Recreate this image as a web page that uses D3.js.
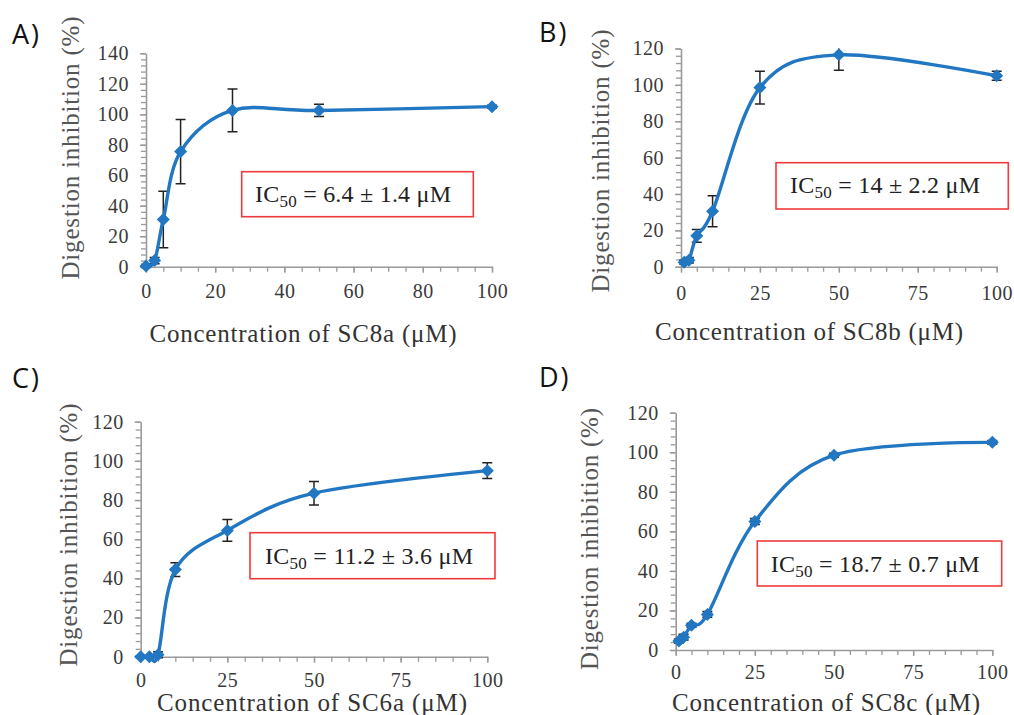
<!DOCTYPE html>
<html><head><meta charset="utf-8">
<script src="https://cdn.jsdelivr.net/npm/d3@7"></script>
<style>body{margin:0;background:#fff}svg{display:block}</style>
</head><body><svg id="c" width="1014" height="715"></svg>
<script>
// ---------- data ----------
const concA = [0, 2.5, 5, 10, 25, 50, 100];
const inhibA = [0.5, 4, 31, 75.5, 102.5, 102.5, 105];
const errA = [1, 2, 18.5, 21, 14, 4, 1];

const concB = [1, 2.5, 5, 10, 25, 50, 100];
const inhibB = [2.5, 3.5, 17, 30.5, 98.5, 116.5, 105];
const errB = [1, 1.5, 3.5, 8.5, 9, 8.5, 2.5];

const concC = [0, 2.5, 5, 10, 25, 50, 100];
const inhibC = [0, 0, 1, 44.5, 64.5, 83.5, 95];
const errC = [0.5, 0.5, 1.5, 3.5, 5.5, 6, 4];

const concD = [1, 2.5, 5, 10, 25, 50, 100];
const inhibD = [4.5, 6.5, 12.5, 18, 65, 98.5, 105];
const errD = [1, 1.5, 1, 1.5, 1.5, 1, 1];

const xTicksA = [0, 20, 40, 60, 80, 100];
const yTicksA = [0, 20, 40, 60, 80, 100, 120, 140];
const xTicksBCD = [0, 25, 50, 75, 100];
const yTicksBCD = [0, 20, 40, 60, 80, 100, 120];

const panelLetters = ["A)", "B)", "C)", "D)"];
const compounds = ["SC8a", "SC8b", "SC6a", "SC8c"];
const ic50Values = ["6.4 ± 1.4", "14 ± 2.2", "11.2 ± 3.6", "18.7 ± 0.7"];
const yTitle = "Digestion inhibition (%)";

// ---------- layout ----------
const layouts = [
  {x:concA, y:inhibA, e:errA, xt:xTicksA, yt:yTicksA, xMinor:5, yMinor:4,
   L:146, R:492, T:53.3, B:266.7, xPad:11,
   letter:[12,44], yT:[79,148, 263], xT:[303,342,307],
   box:[241.7,171.7,473.3,216.7], txt:[255,202,196]},
  {x:concB, y:inhibB, e:errB, xt:xTicksBCD, yt:yTicksBCD, xMinor:5, yMinor:4,
   L:681, R:996.7, T:48.5, B:266.7, xPad:13,
   letter:[539,42], yT:[609,161,263], xT:[809,340,308],
   box:[776,162.7,1008.3,209], txt:[790,193,190]},
  {x:concC, y:inhibC, e:errC, xt:xTicksBCD, yt:yTicksBCD, xMinor:5, yMinor:4,
   L:140.7, R:487.3, T:421.7, B:656.7, xPad:10,
   letter:[12,388], yT:[77,535,263], xT:[312,711,310],
   box:[250,532.7,495,578.7], txt:[265,563.5,208]},
  {x:concD, y:inhibD, e:errD, xt:xTicksBCD, yt:yTicksBCD, xMinor:5, yMinor:4,
   L:675.7, R:992.3, T:412.7, B:650, xPad:9,
   letter:[539,387], yT:[598,539,262], xT:[826,711,308],
   box:[757.3,541,1001.7,586], txt:[770.7,571.7,209]}
];

const svg = d3.select("#c");
svg.append("rect").attr("width",1014).attr("height",715).attr("fill","#fff");

const blue = "#2277c2";
const axisCol = "#9a9a9a";
const serif = "'Liberation Serif', 'Times New Roman', serif";

layouts.forEach((p, i) => {
  const g = svg.append("g");
  const xs = d3.scaleLinear().domain([0, d3.max(p.xt)]).range([p.L, p.R]);
  const ys = d3.scaleLinear().domain([0, d3.max(p.yt)]).range([p.B, p.T]);

  const cid = "clip" + i;
  svg.append("clipPath").attr("id", cid).append("rect")
    .attr("x", p.L - 10).attr("y", p.T).attr("width", p.R - p.L + 20).attr("height", p.B - p.T + 10);

  // minor ticks
  const xMinorVals = d3.range(0, d3.max(p.xt) + 1e-9, p.xMinor);
  const yMinorVals = d3.range(0, d3.max(p.yt) + 1e-9, p.yMinor);
  const xMin = g.append("g").attr("transform", `translate(0,${p.B})`)
    .call(d3.axisBottom(xs).tickValues(xMinorVals).tickSize(5).tickFormat(""));
  const yMin = g.append("g").attr("transform", `translate(${p.L},0)`)
    .call(d3.axisLeft(ys).tickValues(yMinorVals).tickSize(5).tickFormat(""));
  [xMin, yMin].forEach(a => { a.selectAll("line").attr("stroke", axisCol).attr("stroke-width", 1.3); a.select(".domain").remove(); });

  // major axes
  const xa = g.append("g").attr("transform", `translate(0,${p.B})`)
    .call(d3.axisBottom(xs).tickValues(p.xt).tickSize(6).tickPadding(p.xPad).tickSizeOuter(0));
  const ya = g.append("g").attr("transform", `translate(${p.L},0)`)
    .call(d3.axisLeft(ys).tickValues(p.yt).tickSize(6).tickPadding(11).tickSizeOuter(0));
  [xa, ya].forEach(a => {
    a.attr("font-family", null).attr("font-size", null);
    a.select(".domain").attr("stroke", axisCol).attr("stroke-width", 1.6);
    a.selectAll("line").attr("stroke", axisCol).attr("stroke-width", 1.4);
    a.selectAll("text").style("font-family", serif).style("font-size", "20px")
      .attr("fill", "#3a3a3a").style("letter-spacing", "0.5px");
  });

  // error bars
  const eg = g.append("g").attr("clip-path", `url(#${cid})`);
  p.x.forEach((xv, k) => {
    const cx = xs(xv), y1 = ys(p.y[k] + p.e[k]), y2 = ys(p.y[k] - p.e[k]);
    eg.append("line").attr("x1", cx).attr("x2", cx).attr("y1", y1).attr("y2", y2)
      .attr("stroke", "#222").attr("stroke-width", 1.5);
    [y1, y2].forEach(yy => eg.append("line").attr("x1", cx - 5).attr("x2", cx + 5)
      .attr("y1", yy).attr("y2", yy).attr("stroke", "#222").attr("stroke-width", 1.5));
  });

  // smooth line
  const pts = p.x.map((xv, k) => [xv, p.y[k]]);
  const line = d3.line().x(d => xs(d[0])).y(d => ys(d[1])).curve(d3.curveCardinal.tension(0));
  g.append("path").attr("d", line(pts)).attr("fill", "none")
    .attr("stroke", blue).attr("stroke-width", 3.4).attr("stroke-linecap", "round");

  // diamond markers
  const s = 6.5;
  g.selectAll(null).data(pts).enter().append("path")
    .attr("d", d => { const cx = xs(d[0]), cy = ys(d[1]);
      return `M${cx},${cy - s}L${cx + s},${cy}L${cx},${cy + s}L${cx - s},${cy}Z`; })
    .attr("fill", blue);

  // panel letter
  svg.append("text").attr("x", p.letter[0]).attr("y", p.letter[1])
    .style("font-family", "'Open Sans', 'Noto Sans', sans-serif").style("font-size", "27px")
    .style("letter-spacing", "2px").attr("fill", "#111").text(panelLetters[i]);

  // y title
  svg.append("text").attr("transform", `translate(${p.yT[0]},${p.yT[1]}) rotate(-90)`)
    .attr("text-anchor", "middle").style("font-family", serif).style("font-size", "25px")
    .attr("fill", "#555").attr("textLength", p.yT[2]).attr("lengthAdjust", "spacing")
    .text(yTitle);

  // x title
  svg.append("text").attr("x", p.xT[0]).attr("y", p.xT[1]).attr("text-anchor", "middle")
    .style("font-family", serif).style("font-size", "25px").attr("fill", "#333")
    .attr("textLength", p.xT[2]).attr("lengthAdjust", "spacing")
    .text(`Concentration of ${compounds[i]} (μM)`);

  // IC50 box
  const b = p.box;
  svg.append("rect").attr("x", b[0]).attr("y", b[1]).attr("width", b[2] - b[0]).attr("height", b[3] - b[1])
    .attr("fill", "#fff").attr("stroke", "#f03a3a").attr("stroke-width", 1.6);
  const t = svg.append("text").attr("x", p.txt[0]).attr("y", p.txt[1])
    .style("font-family", serif).style("font-size", "24px").attr("fill", "#222")
    .attr("textLength", p.txt[2]).attr("lengthAdjust", "spacing");
  t.append("tspan").text("IC");
  t.append("tspan").style("font-size", "17px").attr("dy", 5).text("50");
  t.append("tspan").attr("dy", -5).text(` = ${ic50Values[i]} μM`);
});
</script>
</body></html>
